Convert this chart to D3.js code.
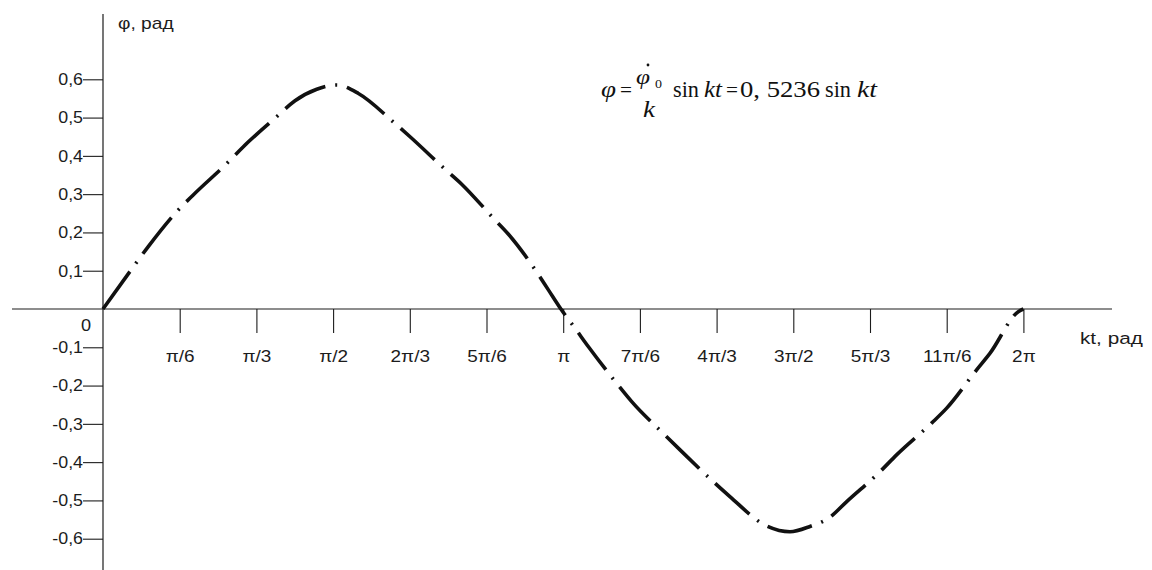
<!DOCTYPE html>
<html><head><meta charset="utf-8">
<script src="https://cdn.jsdelivr.net/npm/d3@7/dist/d3.min.js"></script>
<style>
html,body{margin:0;padding:0;background:#fff;}
svg{display:block;}
</style></head>
<body>
<svg id="chart" width="1152" height="570"></svg>
<script>
// ---- data ----
// kt in degrees, phi in radians
const curveKt  = [0, 11.85, 17.7, 28.8, 35.3, 48.4, 54.9, 67.9, 75.1, 83.6, 91.4, 99.9, 113.5, 120.1, 133.8, 140.3, 152.7, 158.5, 169.6, 174.2, 179.1, 184.6, 189.8, 200.9, 206.8, 219.1, 225.7, 238.7, 245.2, 259.6, 268.7, 276.5, 284.3, 290.9, 303.9, 310.4, 324.1, 330.0, 341.7, 346.9, 358.0, 360];
const curvePhi = [0, 0.110, 0.163, 0.254, 0.298, 0.380, 0.424, 0.502, 0.544, 0.574, 0.585, 0.563, 0.489, 0.450, 0.365, 0.326, 0.237, 0.196, 0.097, 0.050, 0, -0.050, -0.098, -0.194, -0.242, -0.325, -0.368, -0.451, -0.490, -0.567, -0.582, -0.568, -0.544, -0.503, -0.425, -0.381, -0.298, -0.259, -0.159, -0.116, -0.007, 0];

const xTickValues = [30, 60, 90, 120, 150, 180, 210, 240, 270, 300, 330, 360];
const xTickLabels = ["π/6", "π/3", "π/2", "2π/3", "5π/6", "π", "7π/6", "4π/3", "3π/2", "5π/3", "11π/6", "2π"];
const yTickValues = [-0.6, -0.5, -0.4, -0.3, -0.2, -0.1, 0.1, 0.2, 0.3, 0.4, 0.5, 0.6];
const yTickLabels = ["-0,6", "-0,5", "-0,4", "-0,3", "-0,2", "-0,1", "0,1", "0,2", "0,3", "0,4", "0,5", "0,6"];

const yAxisTitle = "φ, рад";
const xAxisTitle = "kt, рад";
const zeroLabel = "0";

// ---- drawing ----
const svg = d3.select("#chart");
const ink = "#1c1c1c";
const sans = "'Liberation Sans', Arial, sans-serif";
const serif = "'Liberation Serif', 'Times New Roman', serif";

const x = d3.scaleLinear().domain([0, 360]).range([103, 1023.4]);
const y = d3.scaleLinear().domain([-0.6, 0.6]).range([538.7, 79.3]);

// axis lines
svg.append("line").attr("x1", 12).attr("x2", 1112).attr("y1", y(0)).attr("y2", y(0))
  .attr("stroke", ink).attr("stroke-width", 1.2);
svg.append("line").attr("x1", x(0)).attr("x2", x(0)).attr("y1", 14).attr("y2", 570)
  .attr("stroke", ink).attr("stroke-width", 1.2);

// x axis ticks
const xAxis = d3.axisBottom(x).tickValues(xTickValues).tickSize(24).tickPadding(17)
  .tickFormat((d, i) => xTickLabels[i]);
const gx = svg.append("g").attr("transform", `translate(0,${y(0)})`).call(xAxis);
gx.select(".domain").remove();
gx.selectAll(".tick line").attr("stroke", ink).attr("stroke-width", 1.1);
gx.selectAll(".tick text").attr("fill", ink).attr("font-family", sans).attr("font-size", 16.5)
  .each(function () {
    const t = d3.select(this);
    const yy = +t.attr("y");
    t.attr("y", null).attr("transform", `translate(0,${yy}) scale(1.15,1)`);
  });

// y axis ticks
const yAxis = d3.axisLeft(y).tickValues(yTickValues).tickSize(20).tickPadding(0)
  .tickFormat((d, i) => yTickLabels[i]);
const gy = svg.append("g").attr("transform", `translate(${x(0)},0)`).call(yAxis);
gy.select(".domain").remove();
gy.selectAll(".tick line").attr("stroke", ink).attr("stroke-width", 1.1);
gy.selectAll(".tick text").attr("fill", ink).attr("font-family", sans).attr("font-size", 16.5)
  .each(function () {
    const t = d3.select(this);
    const xx = +t.attr("x");
    t.attr("x", null).attr("transform", `translate(${xx},0) scale(1.08,1)`);
  });

// zero label
svg.append("text").attr("transform", `translate(86,331) scale(1.1,1)`)
  .attr("text-anchor", "middle").attr("font-family", sans).attr("font-size", 16.5).attr("fill", ink)
  .text(zeroLabel);

// axis titles
svg.append("text").attr("transform", `translate(118,29) scale(1.2,1)`)
  .attr("font-family", sans).attr("font-size", 16).attr("fill", ink).text(yAxisTitle);
svg.append("text").attr("transform", `translate(1080,344) scale(1.22,1)`)
  .attr("font-family", sans).attr("font-size", 17).attr("fill", ink).text(xAxisTitle);

// curve
const pts = curveKt.map((k, i) => [k, curvePhi[i]]);
const line = d3.line().x(d => x(d[0])).y(d => y(d[1])).curve(d3.curveMonotoneX);
svg.append("path").datum(pts).attr("d", line)
  .attr("fill", "none").attr("stroke", "#111").attr("stroke-width", 3.6)
  .attr("stroke-dasharray", "46,10,2,10").attr("stroke-linecap", "butt");

// formula
const f = svg.append("g").attr("font-family", serif).attr("fill", "#111");
function ft(xp, yp, txt, italic, size, len) {
  const t = f.append("text").attr("x", xp).attr("y", yp)
    .attr("font-style", italic ? "italic" : "normal")
    .attr("font-size", size).text(txt);
  if (len) t.attr("textLength", len).attr("lengthAdjust", "spacingAndGlyphs");
}
ft(601, 97, "φ", true, 24, 15);
ft(620, 97, "=", false, 22, 12);
ft(636, 84, "φ", true, 21, 14);
f.append("circle").attr("cx", 648).attr("cy", 65).attr("r", 1.4).attr("fill", "#111");
ft(655, 88, "0", false, 13, 7);
ft(643, 117, "k", true, 23, 12);
ft(673, 97, "sin", false, 23, 26);
ft(704, 97, "kt", true, 23, 18);
ft(726, 97, "=", false, 22, 12);
ft(740, 97, "0, 5236", false, 23, 80);
ft(825, 97, "sin", false, 23, 26);
ft(857, 97, "kt", true, 23, 20);
</script>
</body></html>
